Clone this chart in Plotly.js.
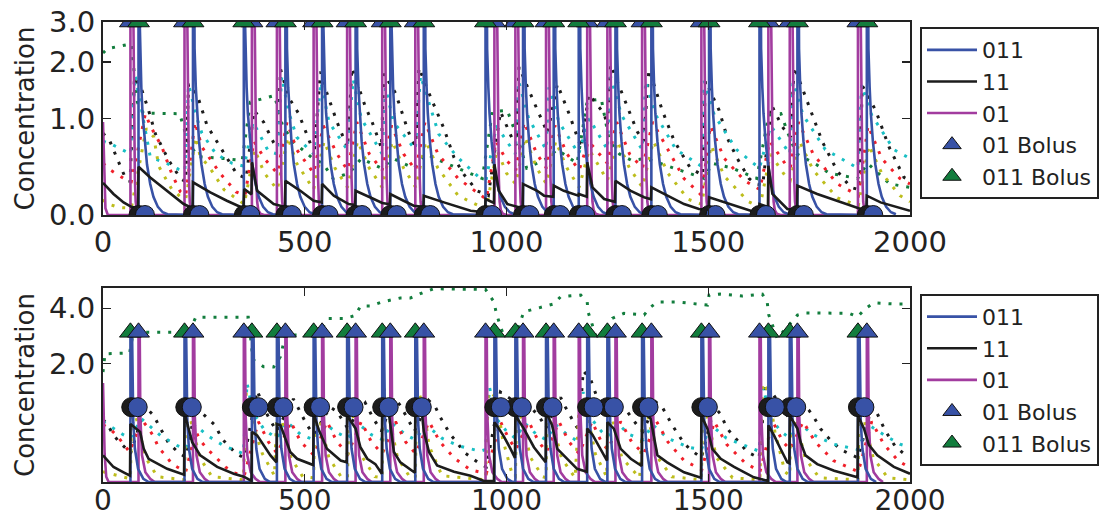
<!DOCTYPE html>
<html><head><meta charset="utf-8">
<script src="https://cdn.plot.ly/plotly-3.0.1.min.js"></script>
<style>html,body{margin:0;padding:0;background:#fff;}#chart{width:1103px;height:519px;}</style>
</head><body><div id="chart"></div>
<script>
// ---------- tick labels ----------
const xTickVals = [0, 500, 1000, 1500, 2000];
const xTickText = ['0', '500', '1000', '1500', '2000'];
const topYTickVals = [0, 1, 2, 3];
const topYTickText = ['0.0', '1.0', '2.0', '3.0'];
const botYTickVals = [2, 4];
const botYTickText = ['2.0', '4.0'];

// ---------- bolus times ----------
const top01Bolus  = [68,202,369,431,522,605,692,774,970,1022,1098,1200,1250,1336,1483,1649,1702,1871];
const top011Bolus = [88,223,349,452,543,626,712,795,948,1041,1117,1179,1270,1359,1502,1627,1721,1893];
const bot011Bolus = [68,202,369,431,522,605,692,774,970,1022,1098,1200,1250,1336,1483,1649,1702,1871];
const bot01Bolus  = [88,223,349,452,543,626,712,795,948,1041,1117,1179,1270,1359,1502,1627,1721,1893];
const topBolusLevel = [3.0];
const botBolusLevel = [3.0];

// ---------- circle markers ----------
const topCircleBlackX = [88,223,349,452,543,626,712,795,948,1041,1117,1179,1270,1359,1502,1627,1721,1893];
const topCircleBlueX  = [104,239,365,468,559,642,728,811,964,1057,1133,1195,1286,1375,1518,1643,1737,1909];
const botCircleBlackX = [70,204,369,431,522,605,692,774,970,1022,1098,1200,1250,1336,1483,1649,1702,1871];
const botCircleBlueX  = [86,220,385,447,538,621,708,790,986,1038,1114,1216,1266,1352,1499,1665,1718,1887];
const topCircleLevel = [0];
const botCircleLevel = [1.0];

// ---------- pulse shapes (time after bolus, concentration) ----------
const top011PulseDt = [0,0,3,4,7,10,15,21,29,37,48,60,72];
const top011PulseC  = [0,40,3.0,2.3,1.5,1.07,0.7,0.44,0.25,0.14,0.06,0.02,0.005];
const top01PulseDt  = [0,0,7,9,11,13,16,21,30];
const top01PulseC   = [0,40,3.0,0.9,0.3,0.1,0.035,0.01,0];
const bot011PulseDt = [0,0,4,5,7,11,19,32,45];
const bot011PulseC  = [0,3.0,3.0,1.3,0.74,0.36,0.13,0.03,0];
const bot01PulseDt  = [0,0,3,4.5,8.7,17,29,40];
const bot01PulseC   = [0,3.0,3.0,0.85,0.28,0.094,0.03,0];
const top01Start = [[0,0.95],[3,0.3],[6,0.05],[12,0]];
const bot01Start = [[0,1.5],[4,0.3],[8,0.05],[14,0]];

// ---------- "11" curves ----------
const top11 = [[0,0.26],[26,0.163],[51,0.095],[70,0.061],[87,0.05],[88,0.415],[117,0.31],[159,0.19],[200,0.082],[222,0.05],[223,0.265],[266,0.177],[307,0.108],[348,0.05],[350,0.205],[368,0.16],[369,0.46],[382,0.19],[423,0.082],[451,0.06],[452,0.279],[489,0.19],[522,0.108],[542,0.095],[543,0.25],[572,0.149],[609,0.082],[625,0.075],[626,0.19],[671,0.122],[692,0.09],[711,0.08],[712,0.163],[745,0.108],[770,0.069],[794,0.06],[795,0.149],[845,0.095],[911,0.031],[947,0.02],[948,0.122],[969,0.09],[970,0.44],[981,0.19],[1002,0.082],[1040,0.05],[1041,0.25],[1076,0.19],[1093,0.149],[1116,0.14],[1117,0.235],[1142,0.19],[1178,0.149],[1179,0.163],[1199,0.14],[1200,0.46],[1213,0.22],[1242,0.122],[1269,0.1],[1270,0.279],[1308,0.19],[1341,0.136],[1358,0.12],[1359,0.22],[1398,0.149],[1440,0.082],[1477,0.044],[1501,0.035],[1502,0.136],[1539,0.095],[1605,0.031],[1626,0.025],[1627,0.082],[1648,0.06],[1649,0.425],[1659,0.163],[1696,0.044],[1720,0.035],[1721,0.235],[1770,0.163],[1828,0.095],[1878,0.044],[1892,0.04],[1893,0.149],[1927,0.095],[2000,0.031]];
const bot11 = [[0,0.28],[26,0.149],[51,0.094],[67,0.06],[68,0.71],[92,0.59],[101,0.36],[113,0.24],[159,0.13],[201,0.07],[202,0.9],[221,0.445],[241,0.28],[283,0.15],[324,0.08],[349,0.05],[368,0.01],[369,0.59],[382,0.54],[398,0.4],[415,0.28],[430,0.2],[431,0.71],[440,0.69],[452,0.49],[464,0.32],[481,0.24],[521,0.17],[522,0.88],[535,0.62],[555,0.36],[589,0.22],[604,0.2],[605,0.85],[626,0.64],[638,0.38],[655,0.24],[675,0.18],[691,0.08],[692,0.96],[708,0.91],[712,0.69],[721,0.32],[737,0.2],[770,0.1],[773,0.09],[774,0.96],[791,0.85],[795,0.6],[808,0.32],[828,0.165],[870,0.1],[911,0.06],[944,0.01],[969,0.01],[970,0.74],[981,0.64],[994,0.52],[1010,0.36],[1021,0.25],[1022,0.85],[1043,0.64],[1068,0.38],[1093,0.22],[1097,0.2],[1098,0.92],[1113,0.69],[1126,0.36],[1142,0.28],[1175,0.13],[1199,0.1],[1200,0.64],[1213,0.55],[1233,0.36],[1246,0.24],[1249,0.22],[1250,0.74],[1266,0.64],[1283,0.36],[1308,0.24],[1335,0.16],[1336,0.92],[1357,0.8],[1365,0.54],[1374,0.28],[1398,0.2],[1440,0.094],[1482,0.04],[1483,0.85],[1498,0.64],[1510,0.36],[1531,0.24],[1564,0.15],[1613,0.044],[1648,0.01],[1649,0.69],[1663,0.54],[1679,0.36],[1696,0.2],[1701,0.19],[1702,0.85],[1721,0.64],[1729,0.445],[1741,0.28],[1770,0.18],[1812,0.11],[1861,0.05],[1870,0.045],[1871,0.85],[1886,0.64],[1898,0.41],[1919,0.28],[1960,0.15],[2000,0.08]];

// ---------- dotted compartments, top panel ----------
const topGreenDots = [[0,2.2],[10,2.3],[70,2.42],[85,1.25],[100,1.08],[190,1.07],[210,0.7],[235,0.52],[300,0.5],[345,0.48],[365,1.25],[425,1.36],[445,0.9],[470,0.7],[520,0.5],[545,0.45],[570,0.3],[610,0.35],[640,0.5],[690,0.4],[720,0.5],[770,0.4],[800,0.55],[850,0.45],[940,0.3],[965,1.1],[1002,1.12],[1030,0.7],[1050,0.4],[1100,0.5],[1125,0.6],[1175,0.45],[1200,1.27],[1235,1.3],[1255,0.7],[1280,0.55],[1310,0.48],[1345,0.5],[1380,0.45],[1450,0.35],[1490,0.3],[1510,0.45],[1560,0.4],[1620,0.3],[1650,1.05],[1680,1.07],[1705,0.7],[1720,0.55],[1767,0.44],[1800,0.35],[1870,0.3],[1895,0.45],[1950,0.25],[2000,0.22]];
const topBlackDots = [[0,0.8],[17,0.7],[37,0.48],[55,0.31],[67,0.27],[78,1.69],[97,1.44],[113,1.12],[130,0.79],[163,0.48],[192,0.3],[205,0.27],[212,1.56],[233,1.38],[258,0.9],[291,0.63],[332,0.34],[355,0.3],[374,1.12],[398,0.95],[423,0.68],[432,0.62],[440,1.85],[460,1.33],[485,1.07],[514,0.67],[524,0.6],[539,1.8],[555,1.4],[580,0.95],[606,0.62],[617,1.88],[650,1.18],[667,0.95],[690,0.62],[696,1.76],[725,1.4],[750,0.93],[766,0.69],[775,0.65],[783,1.88],[812,1.33],[845,0.86],[870,0.51],[894,0.34],[927,0.19],[955,0.15],[985,1.1],[1016,0.71],[1024,0.65],[1031,1.9],[1068,1.25],[1097,0.86],[1102,0.8],[1126,1.56],[1155,1.07],[1185,0.62],[1204,1.38],[1242,1.07],[1250,0.9],[1258,1.95],[1295,1.25],[1324,0.82],[1340,0.7],[1353,1.85],[1386,1.12],[1415,0.71],[1444,0.48],[1456,0.4],[1486,0.33],[1493,1.62],[1527,1.12],[1548,0.73],[1572,0.5],[1601,0.3],[1618,0.25],[1635,0.24],[1657,1.2],[1684,0.88],[1704,0.75],[1713,1.9],[1746,1.25],[1783,0.69],[1820,0.37],[1853,0.22],[1873,0.2],[1882,1.53],[1915,1.12],[1948,0.63],[1985,0.31],[2000,0.28]];
const topCyanDots = [[0,0.7],[22,0.66],[47,0.6],[68,0.55],[80,1.72],[93,1.2],[117,0.52],[138,0.48],[163,0.44],[187,0.39],[203,0.37],[212,1.55],[233,1.0],[245,0.8],[280,0.55],[320,0.45],[350,0.42],[372,0.95],[410,0.58],[432,0.55],[443,1.7],[460,1.1],[480,0.75],[522,0.55],[540,1.6],[560,0.95],[605,0.6],[620,1.65],[640,1.0],[692,0.55],[700,1.5],[720,0.95],[774,0.6],[787,1.72],[832,0.79],[861,0.61],[882,0.5],[935,0.3],[950,0.3],[975,0.9],[1022,0.55],[1030,1.62],[1055,1.0],[1098,0.6],[1105,1.5],[1130,0.95],[1179,0.55],[1205,1.0],[1250,0.6],[1258,1.7],[1285,1.05],[1336,0.6],[1345,1.62],[1370,1.05],[1420,0.6],[1483,0.42],[1490,1.62],[1515,1.05],[1570,0.6],[1627,0.4],[1655,0.9],[1702,0.55],[1710,1.6],[1735,1.05],[1790,0.6],[1871,0.4],[1880,1.55],[1905,1.05],[1960,0.6],[2000,0.5]];
const topRedDots = [[0,0.45],[19,0.38],[60,0.28],[70,0.27],[105,1.07],[117,0.9],[146,0.63],[171,0.34],[192,0.18],[205,0.15],[228,0.95],[245,0.63],[290,0.35],[330,0.18],[352,0.15],[374,0.7],[400,0.5],[432,0.35],[456,0.95],[480,0.6],[522,0.35],[546,0.9],[580,0.55],[606,0.38],[629,0.95],[660,0.55],[692,0.38],[715,0.9],[745,0.55],[775,0.38],[798,0.95],[830,0.55],[880,0.3],[950,0.12],[974,0.7],[1000,0.48],[1023,0.38],[1044,0.95],[1075,0.55],[1099,0.4],[1120,0.9],[1150,0.55],[1180,0.38],[1203,0.7],[1250,0.45],[1273,0.95],[1305,0.55],[1337,0.4],[1362,0.95],[1397,0.62],[1440,0.3],[1484,0.15],[1505,0.9],[1540,0.5],[1590,0.28],[1628,0.2],[1652,0.7],[1690,0.45],[1703,0.4],[1724,0.95],[1760,0.55],[1820,0.25],[1872,0.15],[1896,0.9],[1930,0.5],[1975,0.3],[2000,0.25]];
const topYellowDots = [[0,0.12],[6,0.09],[39,0.056],[70,0.05],[107,0.86],[126,0.75],[138,0.42],[155,0.3],[171,0.2],[192,0.14],[205,0.12],[230,0.75],[241,0.52],[262,0.42],[300,0.2],[350,0.08],[376,0.6],[400,0.35],[432,0.2],[458,0.75],[480,0.45],[522,0.2],[548,0.7],[575,0.4],[606,0.22],[631,0.7],[660,0.4],[692,0.22],[717,0.7],[745,0.4],[775,0.22],[800,0.7],[830,0.4],[880,0.15],[950,0.04],[976,0.6],[1000,0.35],[1023,0.25],[1046,0.75],[1075,0.4],[1099,0.25],[1122,0.7],[1150,0.4],[1180,0.22],[1205,0.6],[1250,0.28],[1275,0.7],[1305,0.4],[1337,0.22],[1364,0.7],[1400,0.35],[1450,0.12],[1484,0.08],[1507,0.65],[1540,0.32],[1600,0.1],[1628,0.06],[1654,0.55],[1695,0.3],[1703,0.28],[1726,0.7],[1760,0.38],[1820,0.13],[1872,0.07],[1898,0.65],[1930,0.35],[1975,0.15],[2000,0.1]];

// ---------- dotted compartments, bottom panel ----------
const botGreenDots = [[0,1.77],[5,2.28],[66,2.3],[75,3.0],[213,3.0],[230,3.6],[360,3.6],[372,2.1],[398,1.91],[423,1.9],[440,2.2],[452,2.9],[531,2.9],[559,3.55],[600,3.55],[626,3.68],[638,4.1],[663,4.1],[692,4.3],[737,4.5],[762,4.5],[795,4.8],[820,4.99],[948,4.95],[969,4.3],[975,3.75],[990,3.0],[1025,3.0],[1043,3.84],[1068,3.95],[1117,4.2],[1134,4.56],[1184,4.65],[1200,4.31],[1202,3.84],[1225,2.72],[1262,3.55],[1291,3.77],[1341,3.7],[1357,4.05],[1374,4.3],[1423,4.3],[1477,4.2],[1498,4.15],[1502,4.65],[1530,4.7],[1584,4.6],[1634,4.7],[1646,4.3],[1650,3.7],[1671,2.78],[1721,3.69],[1741,3.79],[1849,3.77],[1870,3.62],[1890,3.99],[1911,4.26],[1960,4.2],[2000,4.2]];
const botBlackDots = [[0,0.78],[10,0.72],[25,0.55],[40,0.45],[60,0.35],[68,0.3],[105,1.0],[126,0.85],[138,0.69],[163,0.43],[190,0.3],[205,0.26],[230,1.0],[258,0.82],[278,0.69],[295,0.49],[330,0.3],[350,0.25],[382,1.33],[406,0.88],[430,0.6],[472,1.16],[506,0.69],[522,0.55],[563,1.0],[580,0.92],[606,0.65],[650,1.08],[670,0.8],[690,0.6],[721,1.19],[737,1.03],[750,0.85],[772,0.6],[807,1.13],[824,1.0],[836,0.82],[849,0.68],[861,0.55],[878,0.44],[894,0.32],[935,0.18],[950,0.15],[985,1.3],[1010,1.16],[1022,0.9],[1050,1.1],[1084,0.8],[1098,0.65],[1134,1.19],[1146,1.0],[1171,0.69],[1180,0.62],[1190,1.8],[1208,1.6],[1224,1.2],[1248,1.0],[1285,1.0],[1299,0.92],[1324,0.69],[1339,0.6],[1370,1.1],[1386,1.0],[1411,0.69],[1440,0.43],[1456,0.35],[1483,0.25],[1515,1.0],[1530,0.88],[1547,0.64],[1564,0.52],[1597,0.32],[1626,0.25],[1643,1.5],[1665,1.2],[1690,0.9],[1702,0.8],[1735,1.05],[1749,0.95],[1762,0.82],[1778,0.64],[1795,0.52],[1812,0.43],[1828,0.35],[1871,0.25],[1905,1.0],[1919,0.88],[1936,0.64],[1948,0.52],[1965,0.38],[1985,0.3],[2000,0.27]];
const botCyanDots = [[0,0.75],[26,0.64],[50,0.55],[68,0.5],[95,0.8],[142,0.54],[184,0.4],[205,0.36],[228,0.7],[258,0.54],[278,0.47],[299,0.4],[348,0.3],[357,1.5],[372,0.9],[400,0.62],[431,0.5],[455,0.75],[490,0.55],[522,0.48],[548,0.72],[580,0.58],[607,0.5],[632,0.72],[665,0.55],[692,0.48],[717,0.72],[750,0.55],[774,0.48],[800,0.7],[840,0.5],[880,0.4],[935,0.33],[948,0.35],[958,1.4],[975,0.8],[1000,0.6],[1022,0.5],[1046,0.72],[1075,0.55],[1098,0.48],[1122,0.7],[1150,0.55],[1179,0.45],[1190,1.3],[1210,0.8],[1235,0.6],[1250,0.52],[1275,0.72],[1305,0.55],[1339,0.48],[1362,0.7],[1400,0.5],[1450,0.38],[1483,0.35],[1506,0.7],[1545,0.5],[1600,0.38],[1626,0.33],[1636,1.4],[1655,0.8],[1680,0.6],[1702,0.5],[1726,0.72],[1760,0.55],[1810,0.42],[1871,0.35],[1897,0.7],[1935,0.55],[1975,0.42],[2000,0.38]];
const botRedDots = [[0,0.7],[20,0.62],[37,0.52],[53,0.4],[66,0.32],[96,0.78],[113,0.64],[126,0.52],[138,0.37],[155,0.28],[171,0.18],[205,0.1],[230,0.6],[241,0.47],[258,0.36],[283,0.24],[303,0.15],[324,0.09],[350,0.06],[385,0.75],[410,0.45],[432,0.3],[465,0.75],[490,0.45],[523,0.28],[555,0.75],[580,0.45],[607,0.3],[640,0.75],[665,0.45],[692,0.3],[725,0.75],[750,0.45],[775,0.3],[808,0.75],[835,0.45],[870,0.25],[910,0.12],[950,0.08],[985,0.75],[1005,0.5],[1023,0.35],[1055,0.75],[1080,0.45],[1099,0.32],[1130,0.75],[1155,0.45],[1180,0.3],[1212,0.75],[1235,0.45],[1251,0.35],[1283,0.75],[1310,0.45],[1340,0.3],[1372,0.75],[1400,0.45],[1440,0.22],[1484,0.12],[1515,0.75],[1545,0.42],[1590,0.2],[1628,0.1],[1660,0.75],[1685,0.45],[1703,0.35],[1735,0.75],[1765,0.45],[1810,0.22],[1872,0.1],[1905,0.75],[1935,0.42],[1970,0.22],[2000,0.14]];
const botYellowDots = [[0,0.1],[30,0.07],[68,0.03],[72,1.2],[86,0.7],[106,0.25],[135,0.05],[202,0.02],[206,1.2],[220,0.7],[240,0.25],[270,0.05],[348,0.02],[355,1.3],[372,0.7],[395,0.3],[425,0.06],[432,1.2],[446,0.7],[466,0.25],[495,0.05],[522,0.04],[526,1.2],[540,0.7],[560,0.25],[590,0.05],[606,0.04],[610,1.2],[624,0.7],[644,0.25],[674,0.05],[692,0.04],[696,1.4],[710,0.8],[730,0.25],[760,0.05],[774,0.04],[778,1.4],[795,1.0],[808,0.4],[840,0.06],[948,0.02],[955,1.3],[975,1.2],[990,0.5],[1015,0.06],[1022,0.05],[1026,1.2],[1040,0.7],[1060,0.25],[1090,0.05],[1098,0.04],[1102,1.2],[1116,0.7],[1136,0.25],[1170,0.04],[1182,1.3],[1200,0.9],[1220,0.3],[1248,0.05],[1252,1.2],[1266,0.7],[1286,0.25],[1330,0.04],[1340,1.2],[1355,0.7],[1375,0.25],[1410,0.05],[1483,0.02],[1487,1.2],[1501,0.7],[1521,0.25],[1560,0.04],[1628,0.02],[1635,1.5],[1650,1.3],[1665,0.6],[1690,0.1],[1702,0.06],[1706,1.2],[1720,0.7],[1740,0.25],[1775,0.04],[1871,0.02],[1875,1.2],[1889,0.7],[1909,0.25],[1945,0.04],[2000,0.02]];

// ---------- colours ----------
const C_BLUE = '#3852a6', C_MAG = '#a23c9f', C_BLACK = '#1c1c1c', C_GREEN = '#127d3d';
const C_CYAN = '#19bfc4', C_RED = '#f0202a', C_YEL = '#bdbd1c';

// ---------- helpers (log axis shows 1 + concentration) ----------
const lift = v => 1 + v;
function fromPts(arr){ return {x: arr.map(p => p[0]), y: arr.map(p => lift(p[1]))}; }
function pulseTrain(start, times, dt, c){
  const x = start.map(p => p[0]), y = start.map(p => lift(p[1]));
  times.forEach(t => dt.forEach((d, i) => { x.push(t + d); y.push(lift(c[i])); }));
  return {x, y};
}

const traces = [];
function dotted(pts, color, xa, ya){
  const d = fromPts(pts);
  traces.push({type:'scatter', mode:'lines', x:d.x, y:d.y, xaxis:xa, yaxis:ya, showlegend:false, hoverinfo:'skip',
    line:{color:color, width:3, dash:'3px,8px'}});
}
function panel(p){
  const xa = p.xa, ya = p.ya, lg = p.legend;
  p.dots.forEach(d => dotted(d[0], d[1], xa, ya));
  const m = pulseTrain(p.start01, p.b01, p.dt01, p.c01);
  traces.push({type:'scatter', mode:'lines', name:'01', legendrank:3, legend:lg, x:m.x, y:m.y, xaxis:xa, yaxis:ya, line:{color:C_MAG, width:2.6}, hoverinfo:'skip'});
  const b = pulseTrain([], p.b011, p.dt011, p.c011);
  traces.push({type:'scatter', mode:'lines', name:'011', legendrank:1, legend:lg, x:b.x, y:b.y, xaxis:xa, yaxis:ya, line:{color:C_BLUE, width:2.6}, hoverinfo:'skip'});
  const k = fromPts(p.c11);
  traces.push({type:'scatter', mode:'lines', name:'11', legendrank:2, legend:lg, x:k.x, y:k.y, xaxis:xa, yaxis:ya, line:{color:C_BLACK, width:2.6}, hoverinfo:'skip'});
  traces.push({type:'scatter', mode:'markers', showlegend:false, x:p.circBlack, y:p.circBlack.map(() => lift(p.circLevel[0])), xaxis:xa, yaxis:ya, cliponaxis:true,
    marker:{symbol:'circle', size:19, color:C_BLACK, line:{color:'#111', width:1}}, hoverinfo:'skip'});
  traces.push({type:'scatter', mode:'markers', showlegend:false, x:p.circBlue, y:p.circBlue.map(() => lift(p.circLevel[0])), xaxis:xa, yaxis:ya, cliponaxis:true,
    marker:{symbol:'circle', size:19, color:C_BLUE, line:{color:'#111', width:1}}, hoverinfo:'skip'});
  const tri01 = {type:'scatter', mode:'markers', name:'01 Bolus', legendrank:4, legend:lg, x:p.b01, y:p.b01.map(() => lift(p.bolusLevel[0])), xaxis:xa, yaxis:ya, cliponaxis:true,
    marker:{symbol:'triangle-up', size:19, color:C_BLUE, line:{color:'#111', width:1}}, hoverinfo:'skip'};
  const tri011 = {type:'scatter', mode:'markers', name:'011 Bolus', legendrank:5, legend:lg, x:p.b011, y:p.b011.map(() => lift(p.bolusLevel[0])), xaxis:xa, yaxis:ya, cliponaxis:true,
    marker:{symbol:'triangle-up', size:19, color:C_GREEN, line:{color:'#111', width:1}}, hoverinfo:'skip'};
  if (p.greenOnTop) { traces.push(tri01, tri011); } else { traces.push(tri011, tri01); }
}

panel({xa:'x', ya:'y', legend:'legend',
  dots:[[topGreenDots,C_GREEN],[topBlackDots,C_BLACK],[topCyanDots,C_CYAN],[topRedDots,C_RED],[topYellowDots,C_YEL]],
  start01:top01Start, b01:top01Bolus, dt01:top01PulseDt, c01:top01PulseC,
  b011:top011Bolus, dt011:top011PulseDt, c011:top011PulseC, c11:top11,
  circBlack:topCircleBlackX, circBlue:topCircleBlueX, circLevel:topCircleLevel, bolusLevel:topBolusLevel, greenOnTop:true});
panel({xa:'x2', ya:'y2', legend:'legend2',
  dots:[[botGreenDots,C_GREEN],[botBlackDots,C_BLACK],[botCyanDots,C_CYAN],[botRedDots,C_RED],[botYellowDots,C_YEL]],
  start01:bot01Start, b01:bot01Bolus, dt01:bot01PulseDt, c01:bot01PulseC,
  b011:bot011Bolus, dt011:bot011PulseDt, c011:bot011PulseC, c11:bot11,
  circBlack:botCircleBlackX, circBlue:botCircleBlueX, circLevel:botCircleLevel, bolusLevel:botBolusLevel, greenOnTop:false});

const axCommon = {showline:true, linewidth:2, linecolor:'#222', mirror:'ticks', ticks:'inside', ticklen:8, tickwidth:1.2, tickcolor:'#222',
  showgrid:false, zeroline:false, tickfont:{size:29, color:'#222'}, fixedrange:true};
const xa = (anchor, standoff, fs) => Object.assign({}, axCommon, {anchor:anchor, domain:[0,1], range:[0,2000], tickmode:'array',
  tickvals:xTickVals, ticktext:xTickText, ticklabelstandoff:standoff, tickfont:{size:fs, color:'#222'}});
const legCommon = {xanchor:'left', yanchor:'top', x:1.0124, bgcolor:'#fff', bordercolor:'#222', borderwidth:2,
  font:{size:22, color:'#222'}, itemwidth:50, traceorder:'normal', tracegroupgap:0};

const layout = {
  width:1103, height:519,
  margin:{l:103, r:193, t:22, b:37, autoexpand:false},
  paper_bgcolor:'#fff', plot_bgcolor:'#fff',
  font:{family:'DejaVu Sans, Verdana, sans-serif', color:'#222'},
  showlegend:true,
  xaxis: xa('y', 0, 29),
  xaxis2: xa('y2', -8, 28),
  yaxis: Object.assign({}, axCommon, {anchor:'x', domain:[0.5804,1], type:'log', range:[0, Math.log10(lift(3))],
    tickmode:'array', tickvals:topYTickVals.map(lift), ticktext:topYTickText,
    title:{text:'Concentration', font:{size:26, color:'#222'}, standoff:7}}),
  yaxis2: Object.assign({}, axCommon, {anchor:'x2', domain:[0,0.4217], type:'log', range:[0, Math.log10(6.03)],
    tickmode:'array', tickvals:botYTickVals.map(lift), ticktext:botYTickText,
    title:{text:'Concentration', font:{size:26, color:'#222'}, standoff:7}}),
  legend: Object.assign({}, legCommon, {y:0.989}),
  legend2: Object.assign({}, legCommon, {y:0.409})
};

Plotly.newPlot('chart', traces, layout, {staticPlot:true, displayModeBar:false});
</script>
</body></html>
